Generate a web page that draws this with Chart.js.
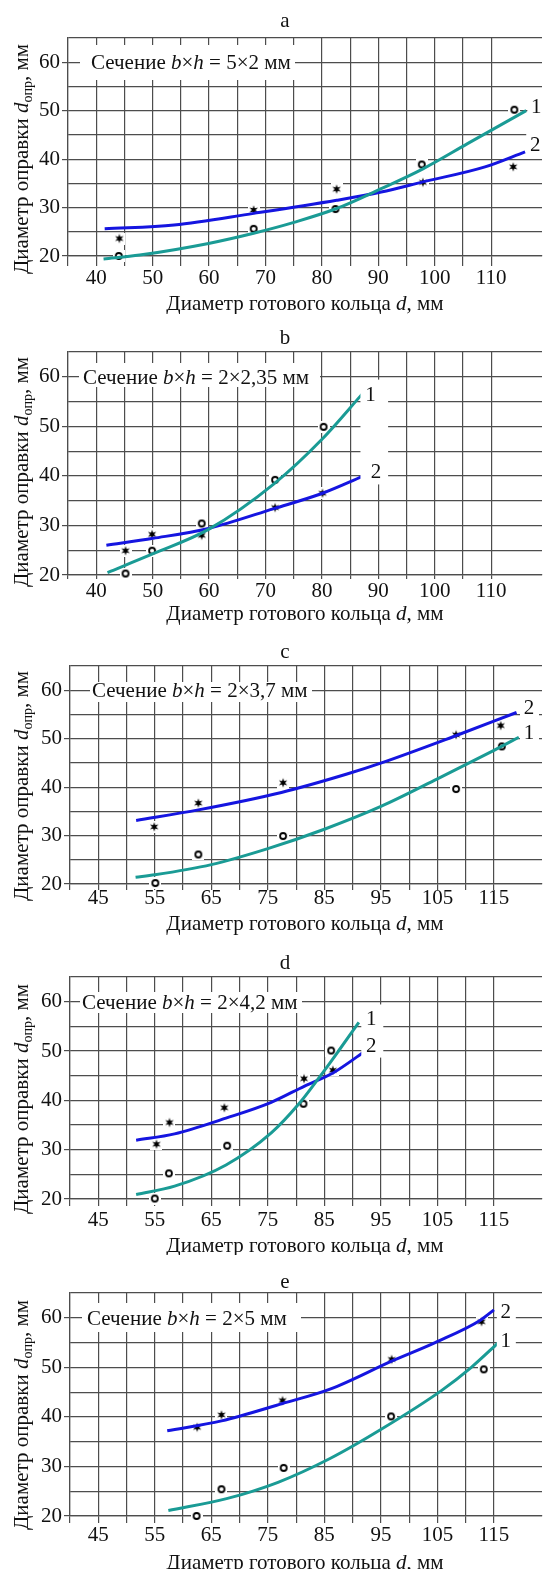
<!DOCTYPE html>
<html>
<head>
<meta charset="utf-8">
<script src="https://cdn.jsdelivr.net/npm/chart.js@4.4.1/dist/chart.umd.min.js"></script>
<style>
  body { margin: 0; background: #fff; }
  .panel { position: relative; width: 549px; }
  canvas { display: block; }
</style>
</head>
<body>
<div id="wrap"></div>
<script>
// --- data ---
const panelLetters = ['a', 'b', 'c', 'd', 'e'];
const sections = ['5×2', '2×2,35', '2×3,7', '2×4,2', '2×5'];
const xTicksAB = [40, 50, 60, 70, 80, 90, 100, 110];
const xTicksCDE = [45, 55, 65, 75, 85, 95, 105, 115];
const yTicks = [20, 30, 40, 50, 60];
const curveNames = ['1', '2'];

// a
const aCurve1 = [[41.3,19.4],[47.7,20.2],[59.9,22.6],[67.9,24.7],[75.2,27.0],[82.6,29.8],[90.5,33.9],[97.9,38.0],[105.8,43.2],[116.2,50.0]];
const aCurve2 = [[41.5,25.6],[53.8,26.4],[67.9,28.8],[82.6,31.5],[90.5,33.2],[97.9,35.3],[108.9,38.4],[116,41.5]];
const aCircles = [[44,20],[67.9,25.6],[82.4,29.7],[97.7,38.9],[114.1,50.2]];
const aStars = [[44.1,23.6],[67.9,29.5],[82.6,33.8],[97.9,35.2],[113.9,38.4]];
const aNamePos = [[118,50.9],[117.8,43.2]];

// b
const bCurve1 = [[42,20.5],[50.1,24.3],[59.9,29.2],[71.5,38.4],[80.1,47.5],[87.2,56.6]];
const bCurve2 = [[41.8,26.0],[50.1,27.4],[59.9,29.4],[71.5,33.4],[80.1,36.5],[87.2,39.9]];
const bCircles = [[45.2,20.3],[49.9,24.9],[58.7,30.4],[71.7,39.2],[80.3,49.9]];
const bStars = [[45.2,24.9],[49.9,28.2],[58.7,28.0],[71.7,33.6],[80.1,36.5]];
const bNamePos = [[88.6,56.6],[89.6,40.9]];

// c
const cCurve1 = [[51.6,21.4],[55,21.9],[65,24.0],[75,27.3],[85,31.3],[95,36.0],[105,41.7],[115,47.6],[119.4,50.3]];
const cCurve2 = [[51.7,33.1],[62.7,35.3],[77.4,38.9],[89.0,42.7],[95.1,45.0],[108,50.5],[119,55.4]];
const cCircles = [[55.1,20.2],[62.7,26.1],[77.7,29.9],[108.3,39.6],[116.4,48.4]];
const cStars = [[54.9,31.8],[62.7,36.7],[77.7,40.9],[108.3,50.8],[116.2,52.7]];
const cNamePos = [[121.2,51.3],[121.2,56.6]];

// d
const dCurve1 = [[51.7,20.9],[58.5,22.6],[67.6,26.9],[75.6,33.4],[80.5,39.3],[84,44.5],[87.5,50.0],[91.1,55.8]];
const dCurve2 = [[51.7,31.9],[58.5,33.2],[67.6,36.4],[75.6,39.6],[81.5,42.9],[86.6,45.6],[92,49.8]];
const dCircles = [[55,20.1],[57.5,25.2],[67.8,30.8],[81.3,39.3],[86.2,50.1]];
const dStars = [[55.3,31.1],[57.6,35.5],[67.3,38.5],[81.4,44.4],[86.5,46.1]];
const dNamePos = [[93.3,56.6],[93.3,51.3]];

// e
const eCurve1 = [[57.4,21.1],[67.7,23.5],[76.8,26.8],[86.0,31.6],[95.2,37.6],[105.7,45.3],[111,50],[115.8,55]];
const eCurve2 = [[57.2,37.2],[66.8,39.2],[77.6,42.7],[86.0,45.6],[97.0,51.3],[104.6,55.0],[112.6,59.5],[115,61.6]];
const eCircles = [[62.4,20.0],[66.8,25.4],[77.8,29.7],[96.8,40.1],[113.2,49.6]];
const eStars = [[62.5,37.9],[66.8,40.4],[77.6,43.3],[96.9,51.6],[112.8,59.2]];
const eNamePos = [[117.1,55.6],[117.1,61.3]];

const panelData = [
  { c1: aCurve1, c2: aCurve2, o: aCircles, s: aStars, names: aNamePos, xt: xTicksAB },
  { c1: bCurve1, c2: bCurve2, o: bCircles, s: bStars, names: bNamePos, xt: xTicksAB },
  { c1: cCurve1, c2: cCurve2, o: cCircles, s: cStars, names: cNamePos, xt: xTicksCDE },
  { c1: dCurve1, c2: dCurve2, o: dCircles, s: dStars, names: dNamePos, xt: xTicksCDE },
  { c1: eCurve1, c2: eCurve2, o: eCircles, s: eStars, names: eNamePos, xt: xTicksCDE }
];

// --- layout (pixels inside each panel canvas) ---
const layout = [
  { h: 314, top: 38, bottom: 256, left: 68, xMin: 35, xMax: 119, xTick: 10, xPad: 0, titleY: 21, xTitleY: 303, yTitleY: 159, box: [80, 45, 295, 80], textX: 91, merge: false },
  { h: 314, top: 38, bottom: 261, left: 68, xMin: 35, xMax: 119, xTick: 4, xPad: 0, titleY: 24, xTitleY: 299, yTitleY: 158, box: [79, 49, 320, 73], textX: 83, merge: true },
  { h: 313, top: 38, bottom: 256, left: 70, xMin: 40, xMax: 123.5, xTick: 6, xPad: -4, titleY: 24, xTitleY: 295, yTitleY: 158, box: [90, 54, 312, 74], textX: 92, merge: false },
  { h: 314, top: 36, bottom: 258, left: 70, xMin: 40, xMax: 123.5, xTick: 7, xPad: 2, titleY: 22, xTitleY: 304, yTitleY: 158, box: [80, 51, 302, 72], textX: 82, merge: true },
  { h: 314, top: 38, bottom: 261, left: 70, xMin: 40, xMax: 123.5, xTick: 7, xPad: 0, titleY: 27, xTitleY: 307, yTitleY: 160, box: [82, 48, 301, 77], textX: 87, merge: false }
];

const TEAL = '#1a9b95';
const BLUE = '#1515e0';
const GRID = '#4d4d4d';
const SERIF = '"Liberation Serif", "DejaVu Serif", serif';
const F = (s, it) => (it ? 'italic ' : '') + s + 'px ' + SERIF;

Chart.defaults.font.family = SERIF;
Chart.defaults.color = '#111';

// markers with a white halo, as in the figure
function makeMarker(kind) {
  const c = document.createElement('canvas');
  c.width = 12; c.height = 12;
  const g = c.getContext('2d');
  g.fillStyle = '#fff';
  g.fillRect(0, 0, 12, 12);
  if (kind === 'circle') {
    g.beginPath();
    g.arc(6, 6, 3.0, 0, Math.PI * 2);
    g.lineWidth = 1.8;
    g.strokeStyle = '#000';
    g.stroke();
  } else {
    g.beginPath();
    for (let i = 0; i < 12; i++) {
      const r = i % 2 === 0 ? 4.8 : 2.0;
      const a = -Math.PI / 2 + i * Math.PI / 6;
      const px = 6 + r * Math.cos(a), py = 6 + r * Math.sin(a);
      if (i === 0) g.moveTo(px, py); else g.lineTo(px, py);
    }
    g.closePath();
    g.fillStyle = '#000';
    g.fill();
  }
  return c;
}
const circleMark = makeMarker('circle');
const starMark = makeMarker('star');

function drawRich(ctx, segs, x, y, align) {
  let w = 0;
  segs.forEach(s => { ctx.font = s.f; s.w = ctx.measureText(s.t).width; w += s.w; });
  let cx = align === 'center' ? x - w / 2 : x;
  ctx.textAlign = 'left';
  ctx.textBaseline = 'alphabetic';
  ctx.fillStyle = '#111';
  segs.forEach(s => { ctx.font = s.f; ctx.fillText(s.t, cx, y + (s.dy || 0)); cx += s.w; });
}

const decor = {
  id: 'decor',
  beforeDatasetsDraw(chart, args, o) {
    const ctx = chart.ctx, L = o.L;
    const y60 = chart.scales.y.getPixelForValue(60);
    ctx.save();
    ctx.fillStyle = '#fff';
    ctx.fillRect(L.box[0], L.box[1], L.box[2] - L.box[0], L.box[3] - L.box[1]);
    drawRich(ctx, [
      { t: 'Сечение ', f: F(21) },
      { t: 'b', f: F(21, true) },
      { t: '×', f: F(21) },
      { t: 'h', f: F(21, true) },
      { t: ' = ' + o.section + ' мм', f: F(21) }
    ], L.textX, y60 + 7, 'left');
    ctx.restore();
  },
  afterDatasetsDraw(chart, args, o) {
    const ctx = chart.ctx, L = o.L;
    const xs = chart.scales.x, ys = chart.scales.y;
    const pts = o.names.map(p => [xs.getPixelForValue(p[0]), ys.getPixelForValue(p[1])]);
    ctx.save();
    ctx.fillStyle = '#fff';
    if (L.merge) {
      const xl = Math.min(pts[0][0], pts[1][0]) - 10;
      const xr = Math.max(pts[0][0], pts[1][0]) + 12;
      const yt = Math.min(pts[0][1], pts[1][1]) - 14;
      const yb = Math.max(pts[0][1], pts[1][1]) + 13;
      ctx.fillRect(xl, yt, xr - xl, yb - yt);
    } else {
      pts.forEach(p => ctx.fillRect(p[0] - 9, p[1] - 13, 19, 26));
    }
    pts.forEach((p, i) => drawRich(ctx, [{ t: curveNames[i], f: F(21) }], p[0], p[1] + 7, 'center'));
    ctx.restore();
  },
  afterDraw(chart, args, o) {
    const ctx = chart.ctx, L = o.L;
    ctx.save();
    drawRich(ctx, [{ t: o.letter, f: F(21) }], 285, L.titleY + 6, 'center');
    drawRich(ctx, [
      { t: 'Диаметр готового кольца ', f: F(21) },
      { t: 'd', f: F(21, true) },
      { t: ', мм', f: F(21) }
    ], 305, L.xTitleY + 7, 'center');
    ctx.translate(21, L.yTitleY);
    ctx.rotate(-Math.PI / 2);
    drawRich(ctx, [
      { t: 'Диаметр оправки ', f: F(21) },
      { t: 'd', f: F(21, true) },
      { t: 'опр', f: F(14), dy: 4 },
      { t: ', мм', f: F(21) }
    ], 0, 7, 'center');
    ctx.restore();
  }
};

const toXY = arr => arr.map(p => ({ x: p[0], y: p[1] }));

const wrap = document.getElementById('wrap');
panelData.forEach((P, i) => {
  const L = layout[i];
  const div = document.createElement('div');
  div.className = 'panel';
  div.style.height = L.h + 'px';
  const cv = document.createElement('canvas');
  div.appendChild(cv);
  wrap.appendChild(div);

  const lineDs = (d, col) => ({
    type: 'line', data: toXY(d), borderColor: col, borderWidth: 3,
    pointRadius: 0, cubicInterpolationMode: 'monotone', fill: false, clip: false
  });
  const markDs = (d, mark) => ({
    type: 'scatter', data: toXY(d), pointStyle: mark, pointRadius: 6,
    showLine: false, clip: false
  });

  new Chart(cv, {
    type: 'line',
    data: {
      datasets: [
        lineDs(P.c1, TEAL),
        lineDs(P.c2, BLUE),
        markDs(P.o, circleMark),
        markDs(P.s, starMark)
      ]
    },
    options: {
      responsive: true,
      maintainAspectRatio: false,
      animation: false,
      events: [],
      layout: { padding: { top: L.top, left: 0, right: 0, bottom: 0 } },
      plugins: {
        legend: { display: false },
        tooltip: { enabled: false },
        decor: { L: L, letter: panelLetters[i], section: sections[i], names: P.names }
      },
      scales: {
        x: {
          type: 'linear', min: L.xMin, max: L.xMax,
          afterBuildTicks: s => { s.ticks = s.ticks.filter(t => t.value % 5 === 0); },
          afterFit: s => { s.height = L.h - L.bottom; },
          ticks: {
            stepSize: 5, autoSkip: false, maxRotation: 0, minRotation: 0,
            padding: L.xPad, font: { size: 21 }, color: '#111',
            callback: v => (P.xt.includes(v) ? String(v) : '')
          },
          grid: { color: GRID, lineWidth: 1.2, tickLength: L.xTick, tickColor: GRID },
          border: { display: true, color: GRID, width: 1.2 }
        },
        y: {
          min: 20, max: 65,
          afterFit: s => { s.width = L.left; },
          ticks: {
            stepSize: 5, autoSkip: false, padding: 2, font: { size: 21 }, color: '#111',
            callback: v => (yTicks.includes(v) ? String(v) : '')
          },
          grid: {
            color: GRID, lineWidth: 1.2, tickLength: 6,
            tickColor: c => (c.tick && yTicks.includes(c.tick.value) ? GRID : 'rgba(0,0,0,0)')
          },
          border: { display: true, color: GRID, width: 1.2 }
        }
      }
    },
    plugins: [decor]
  });
});
</script>
</body>
</html>
